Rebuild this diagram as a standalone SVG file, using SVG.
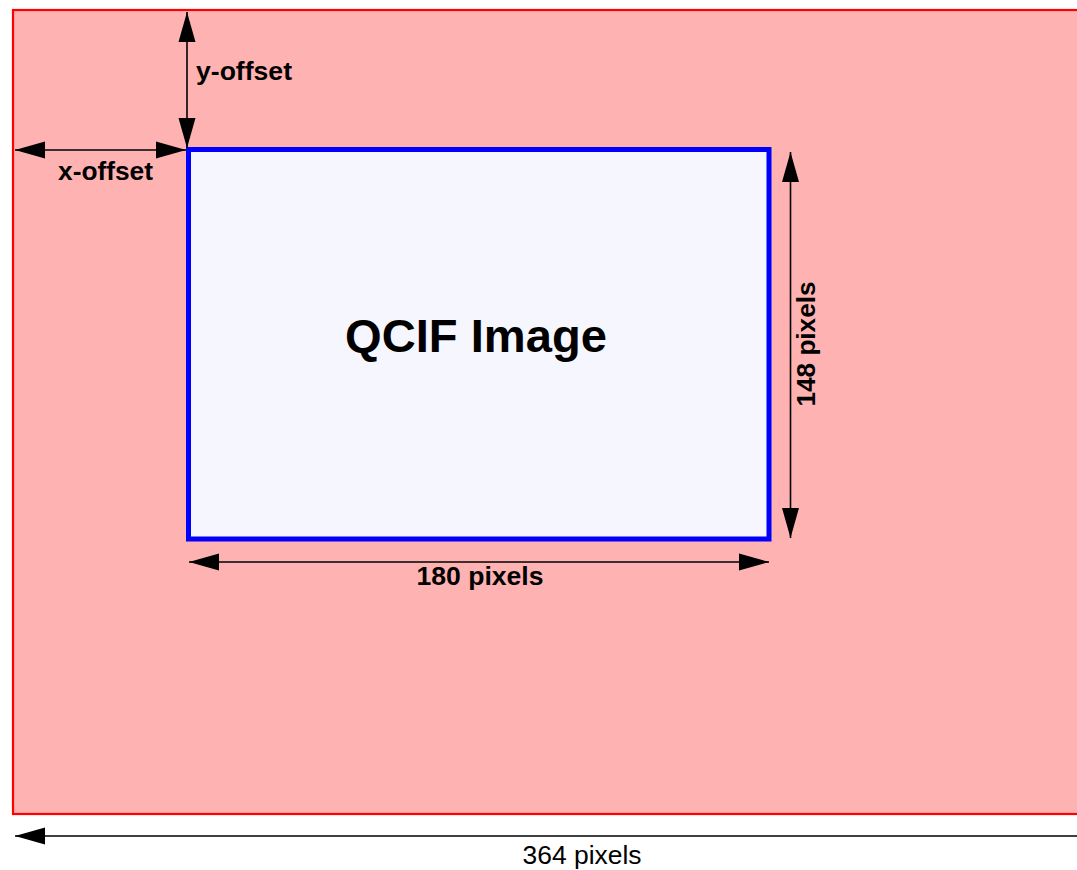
<svg xmlns="http://www.w3.org/2000/svg" width="1077" height="870" viewBox="0 0 1077 870">
<defs>
<style>
.lbl{font-family:"Liberation Sans",Arial,sans-serif;fill:#000}
.b{font-weight:bold}
.dim{stroke:#000;stroke-width:1.6;fill:none}
</style>
<marker id="ah" markerUnits="userSpaceOnUse" markerWidth="32" markerHeight="20" viewBox="0 -10 32 20" refX="30" refY="0" orient="auto-start-reverse">
<path d="M0,-8.5 L30,0 L0,8.5 z" fill="#000"/>
</marker>
</defs>
<rect width="1077" height="870" fill="#fff"/>
<g id="frame">
<rect x="13" y="10" width="1080" height="804" fill="#ffb2b2" stroke="#ff0000" stroke-width="2.2"/>
</g>
<g id="qcif">
<rect x="188.5" y="149.5" width="580.5" height="389.5" fill="#f6f6ff" stroke="#0000ff" stroke-width="5"/>
<text class="lbl b" x="476" y="352" font-size="47" text-anchor="middle" textLength="262" lengthAdjust="spacingAndGlyphs">QCIF Image</text>
</g>
<g id="connectors">
<line class="dim" x1="187" y1="12" x2="187" y2="148" marker-start="url(#ah)" marker-end="url(#ah)"/>
<line class="dim" x1="15" y1="150" x2="186" y2="150" marker-start="url(#ah)" marker-end="url(#ah)"/>
<line class="dim" x1="790.5" y1="152" x2="790.5" y2="538" marker-start="url(#ah)" marker-end="url(#ah)"/>
<line class="dim" x1="189" y1="562" x2="769" y2="562" marker-start="url(#ah)" marker-end="url(#ah)"/>
<line class="dim" x1="15" y1="836" x2="1120" y2="836" marker-start="url(#ah)"/>
</g>
<g id="labels">
<text class="lbl b" x="196" y="80" font-size="26" textLength="96" lengthAdjust="spacingAndGlyphs">y-offset</text>
<text class="lbl b" x="58" y="180" font-size="26" textLength="95" lengthAdjust="spacingAndGlyphs">x-offset</text>
<text class="lbl b" x="480" y="585" font-size="26" text-anchor="middle" textLength="127" lengthAdjust="spacingAndGlyphs">180 pixels</text>
<text class="lbl b" transform="translate(815,344) rotate(-90)" x="0" y="0" font-size="26" text-anchor="middle" textLength="125" lengthAdjust="spacingAndGlyphs">148 pixels</text>
<text class="lbl" x="582" y="864" font-size="26" text-anchor="middle" textLength="119" lengthAdjust="spacingAndGlyphs">364 pixels</text>
</g>
</svg>
